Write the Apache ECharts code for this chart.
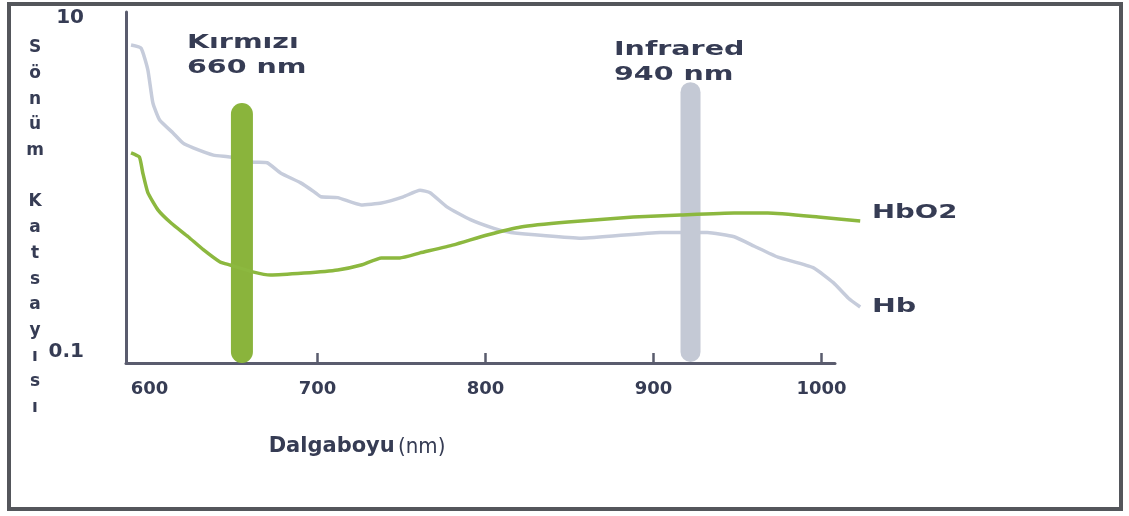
<!DOCTYPE html>
<html>
<head>
<meta charset="utf-8">
<title>Sönüm Katsayısı</title>
<script src="https://cdn.jsdelivr.net/npm/echarts@6/dist/echarts.min.js"></script>
<style>
  html, body { margin: 0; padding: 0; background: #fff; }
  #main { width: 1129px; height: 516px; }
</style>
</head>
<body>
<div id="main"></div>
<script>
    // dalga boyu (nm) / sönüm katsayısı
    var hbNm = [589, 595, 599, 602, 606, 614, 620, 626, 638, 648, 662, 670, 678, 690, 698, 702, 712, 726, 738, 751,
        761, 767, 777, 791, 805, 815, 857, 904, 932, 948, 960, 974, 995, 1007, 1016, 1023];
    var hbVal = [6.9, 6.6, 4.9, 3.1, 2.45, 2.05, 1.78, 1.67, 1.51, 1.47, 1.37, 1.36, 1.18, 1.03, 0.91, 0.85, 0.84, 0.76, 0.78, 0.85,
        0.93, 0.90, 0.74, 0.62, 0.55, 0.52, 0.48, 0.52, 0.52, 0.49, 0.43, 0.37, 0.32, 0.26, 0.21, 0.186];
    var hbo2Nm = [589, 594, 596, 599, 605, 613, 623, 632, 642, 648, 662, 672, 692, 712, 726, 738, 749, 761, 781, 801,
        821, 849, 888, 916, 948, 968, 998, 1023];
    var hbo2Val = [1.56, 1.47, 1.18, 0.90, 0.71, 0.59, 0.49, 0.41, 0.346, 0.332, 0.301, 0.289, 0.297, 0.310, 0.332, 0.366, 0.366, 0.392, 0.438, 0.502,
        0.561, 0.60, 0.643, 0.661, 0.679, 0.679, 0.643, 0.608];
    var xLabels = [600, 700, 800, 900, 1000];
    var xTicks = [700, 800, 900, 1000];
    var yLabels = ['0.1', '10'];
    var bandNm = [655, 922];      // kırmızı, infrared
    var bandTop = [2.66, 3.6];
    var bandBottom = 0.1;

    var textColor = '#363c54';
    var axisColor = '#5a5c6e';
    var font = 'DejaVu Sans';

    // görünen eksen 586..1008 nm, eğriler 1024 nm'ye kadar uzanıyor
    var xMin = 586, xMax = 1008, xMaxCurve = 1024;
    var yMin = 0.0859, yMax = 10.87;
    var plotLeft = 126, plotRight = 835, plotTop = 12, plotBottom = 363;
    var pxPerNm = (plotRight - plotLeft) / (xMax - xMin);
    var curveRight = plotLeft + (xMaxCurve - xMin) * pxPerNm;

    function pairs(xs, ys) {
        return xs.map(function (x, i) { return [x, ys[i]]; });
    }

    var myChart = echarts.init(document.getElementById('main'));

    myChart.setOption({
        animation: false,
        backgroundColor: '#fff',
        grid: [
            {left: plotLeft, right: 1129 - plotRight, top: plotTop, bottom: 516 - plotBottom,
                containLabel: false, outerBoundsMode: 'none'},
            {left: plotLeft, right: 1129 - curveRight, top: plotTop, bottom: 516 - plotBottom,
                containLabel: false, outerBoundsMode: 'none'}
        ],
        xAxis: [
            {
                type: 'value',
                gridIndex: 0,
                min: xMin,
                max: xMax,
                axisLine: {onZero: false, lineStyle: {color: axisColor, width: 3}},
                axisTick: {show: true, inside: true, length: 10, customValues: xTicks,
                    lineStyle: {color: axisColor, width: 2.5}},
                axisLabel: {customValues: xLabels, margin: 17, fontSize: 18, fontWeight: 'bold',
                    fontFamily: font, color: textColor,
                    formatter: function (v) { return String(v); }},
                splitLine: {show: false},
                name: '{b|Dalgaboyu} {n|(nm)}',
                nameLocation: 'middle',
                nameGap: 84,
                nameTextStyle: {
                    align: 'center', verticalAlign: 'middle',
                    padding: [0, 247, 0, 0],
                    rich: {
                        b: {fontSize: 21, fontWeight: 'bold', fontFamily: font, color: textColor},
                        n: {fontSize: 22, fontFamily: 'Liberation Sans Narrow, DejaVu Sans Condensed', color: textColor}
                    }
                }
            },
            {
                type: 'value',
                gridIndex: 1,
                min: xMin,
                max: xMaxCurve,
                show: false
            }
        ],
        yAxis: [
            {
                type: 'log',
                gridIndex: 0,
                logBase: 10,
                min: yMin,
                max: yMax,
                axisLine: {show: true, lineStyle: {color: axisColor, width: 3}},
                axisTick: {show: false},
                splitLine: {show: false},
                axisLabel: {
                    margin: 42, fontSize: 20, fontWeight: 'bold', fontFamily: font, color: textColor,
                    formatter: function (v) {
                        for (var i = 0; i < yLabels.length; i++) {
                            if (Math.abs(v - Number(yLabels[i])) < 1e-6) return yLabels[i];
                        }
                        return '';
                    }
                }
            },
            {
                type: 'log',
                gridIndex: 1,
                logBase: 10,
                min: yMin,
                max: yMax,
                show: false
            }
        ],
        series: [
            {
                name: 'Hb',
                type: 'line',
                xAxisIndex: 1,
                yAxisIndex: 1,
                data: pairs(hbNm, hbVal),
                showSymbol: false,
                smooth: 0.15,
                z: 2,
                lineStyle: {color: '#c6ccdb', width: 3.5}
            },
            {
                name: 'Kırmızı',
                type: 'line',
                data: [[bandNm[0], bandBottom], [bandNm[0], bandTop[0]]],
                showSymbol: false,
                clip: false,
                z: 3,
                lineStyle: {color: '#8ab43c', width: 22, cap: 'round'}
            },
            {
                name: 'Infrared',
                type: 'line',
                data: [[bandNm[1], bandBottom], [bandNm[1], bandTop[1]]],
                showSymbol: false,
                clip: false,
                z: 3,
                lineStyle: {color: '#c4c9d5', width: 20, cap: 'round'}
            },
            {
                name: 'HbO2',
                type: 'line',
                xAxisIndex: 1,
                yAxisIndex: 1,
                data: pairs(hbo2Nm, hbo2Val),
                showSymbol: false,
                smooth: 0.15,
                z: 4,
                lineStyle: {color: '#8cb83f', width: 3.5}
            }
        ],
        graphic: [
            {
                type: 'rect', silent: true,
                shape: {x: 9, y: 4, width: 1112, height: 505},
                style: {fill: 'none', stroke: '#54565b', lineWidth: 4}
            },
            {
                // dikey eksen başlığı, harf harf
                type: 'text', x: 35, y: 35,
                style: {text: 'S\nö\nn\nü\nm\n\nK\na\nt\ns\na\ny\nı\ns\nı', fontSize: 17, fontWeight: 'bold',
                    fontFamily: font, lineHeight: 25.7, fill: textColor, align: 'center', verticalAlign: 'top'}
            },
            {
                type: 'text', x: 187, y: 30.5, scaleX: 1.5,
                style: {text: 'Kırmızı\n660 nm', fontSize: 19, fontWeight: 'bold', fontFamily: font,
                    lineHeight: 25, fill: textColor, verticalAlign: 'top'}
            },
            {
                type: 'text', x: 614, y: 37.5, scaleX: 1.5,
                style: {text: 'Infrared\n940 nm', fontSize: 19, fontWeight: 'bold', fontFamily: font,
                    lineHeight: 25, fill: textColor, verticalAlign: 'top'}
            },
            {
                type: 'text', x: 872, y: 200.5, scaleX: 1.45,
                style: {text: 'HbO2', fontSize: 19, fontWeight: 'bold', fontFamily: font,
                    lineHeight: 25, fill: textColor, verticalAlign: 'top'}
            },
            {
                type: 'text', x: 872, y: 294.5, scaleX: 1.5,
                style: {text: 'Hb', fontSize: 19, fontWeight: 'bold', fontFamily: font,
                    lineHeight: 25, fill: textColor, verticalAlign: 'top'}
            }
        ]
    });
</script>
</body>
</html>
